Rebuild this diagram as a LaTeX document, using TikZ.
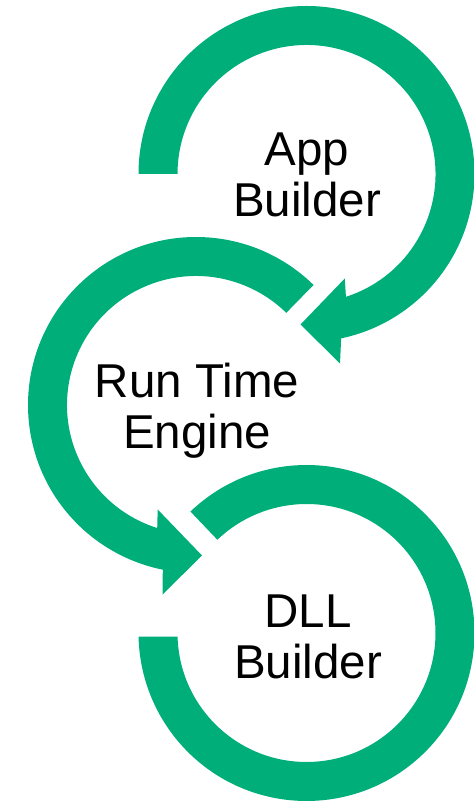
\documentclass[tikz,border=0pt]{standalone}
\usepackage{fontspec}
\setmainfont{Liberation Sans}
\usetikzlibrary{calc}
\definecolor{ringgreen}{RGB}{0,174,122}
\begin{document}
\begin{tikzpicture}[x=1pt,y=1pt,
  ring/.style={fill=ringgreen, draw=none},
  label/.style={align=center, font=\fontsize{47.5}{51}\selectfont, text=black, inner sep=0pt}]
\useasboundingbox (0,0) rectangle (474,801);
% ring centres
\coordinate (c1) at (306.5,627);
\coordinate (c2) at (196,396);
\coordinate (c3) at (306.5,168);
% upper ring, arrow pointing into the middle ring
\fill[ring] ($(c1)+(180:168)$) arc[start angle=180, end angle=-78.1, radius=168]
  -- ($(c1)+(33.5,-189.5)$) -- ($(c1)+(-6,-150.5)$) -- ($(c1)+(38.3,-104.5)$)
  -- ($(c1)+(-72.2:129)$) arc[start angle=-72.2, end angle=180, radius=129] -- cycle;
% middle ring, arrow pointing into the lower ring
\fill[ring] ($(c2)+(45.6:168)$) arc[start angle=45.6, end angle=258.6, radius=168]
  -- ($(c2)+(-33.5,-189.5)$) -- ($(c2)+(6,-150.5)$) -- ($(c2)+(-38.3,-104.5)$)
  -- ($(c2)+(252.5:129)$) arc[start angle=252.5, end angle=45.6, radius=129] -- cycle;
% lower ring, open on the left
\fill[ring] ($(c3)+(133.7:168)$) arc[start angle=133.7, end angle=-178.74, radius=168]
  -- ($(c3)+(-178.36:129)$) arc[start angle=-178.36, end angle=133.7, radius=129] -- cycle;
% labels
\node[label] (app) at (307,626) {App\\Builder};
\node[label] (rte) at (197,390) {Run Time\\Engine};
\node[label] (dll) at (308,164.5) {DLL\\Builder};
\end{tikzpicture}
\end{document}
